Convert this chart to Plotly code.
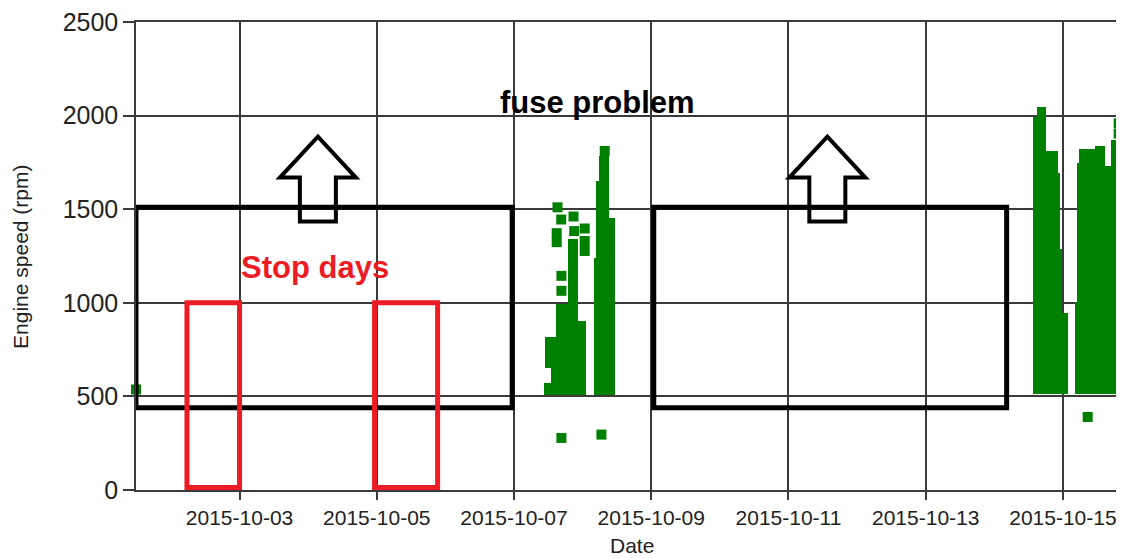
import pandas as pd
import plotly.graph_objects as go

# ---------------- data ----------------
x_tick_dates = ["2015-10-03", "2015-10-05", "2015-10-07", "2015-10-09",
                "2015-10-11", "2015-10-13", "2015-10-15"]
y_tick_values = [0, 500, 1000, 1500, 2000, 2500]
x_range = ["2015-10-01 11:47", "2015-10-15 21:22"]
y_range = [0, 2500]

# isolated engine-speed samples (time, rpm)
sample_time = ["2015-10-01 11:47", "2015-10-07 15:13", "2015-10-07 16:31",
               "2015-10-07 20:49", "2015-10-07 21:04", "2015-10-08 00:44",
               "2015-10-08 00:44", "2015-10-08 00:44", "2015-10-07 14:56",
               "2015-10-07 14:56", "2015-10-07 16:35", "2015-10-07 16:35",
               "2015-10-07 16:35", "2015-10-08 07:44", "2015-10-08 06:35",
               "2015-10-15 19:30", "2015-10-15 19:30", "2015-10-15 08:40"]
sample_rpm = [537, 1510, 1445, 1461, 1383, 1397, 1330, 1277, 1372, 1324,
              1144, 1064, 278, 1811, 296, 1959, 1904, 390]

# dense running periods: time slot and rpm envelope (min / max) in that slot
dense_start = ["2015-10-07 10:23", "2015-10-07 13:05", "2015-10-07 10:59",
               "2015-10-07 14:35", "2015-10-07 18:53", "2015-10-07 22:23",
               "2015-10-08 03:59", "2015-10-08 04:41", "2015-10-08 05:38",
               "2015-10-08 09:08",
               "2015-10-14 13:41", "2015-10-14 14:49", "2015-10-14 17:58",
               "2015-10-14 22:22", "2015-10-14 22:58", "2015-10-14 23:40",
               "2015-10-15 04:13", "2015-10-15 05:05", "2015-10-15 05:43",
               "2015-10-15 11:13", "2015-10-15 14:43", "2015-10-15 16:49"]
dense_end = ["2015-10-07 14:35", "2015-10-07 14:35", "2015-10-07 14:35",
             "2015-10-07 18:53", "2015-10-07 22:23", "2015-10-08 01:21",
             "2015-10-08 04:41", "2015-10-08 05:38", "2015-10-08 09:08",
             "2015-10-08 11:29",
             "2015-10-14 14:49", "2015-10-14 17:58", "2015-10-14 22:22",
             "2015-10-14 22:58", "2015-10-14 23:40", "2015-10-15 01:46",
             "2015-10-15 05:05", "2015-10-15 05:43", "2015-10-15 11:13",
             "2015-10-15 14:43", "2015-10-15 16:49", "2015-10-15 23:28"]
dense_low = [505, 570, 654, 505, 505, 505,
             505, 505, 505, 505,
             514, 514, 514, 514, 514, 514,
             514, 514, 514, 514, 514, 514]
dense_high = [570, 654, 815, 995, 1340, 905,
              1240, 1650, 1782, 1454,
              1995, 2048, 1809, 1691, 1287, 947,
              1002, 1746, 1821, 1839, 1729, 1871]

# annotation regions
fuse_boxes = [("2015-10-01 11:47", "2015-10-06 23:22", 440, 1510),
              ("2015-10-09 00:53", "2015-10-14 04:19", 440, 1510)]
stop_boxes = [("2015-10-02 05:37", "2015-10-03 00:00", 13, 1000),
              ("2015-10-04 23:14", "2015-10-05 21:17", 13, 1000)]
arrow_tips = [("2015-10-04 03:24", 1888), ("2015-10-11 13:36", 1888)]

# ---------------- styling ----------------
GREEN = "#008000"
RED = "#ED1C24"
GRID = "#3a3a3a"
FONT = "Liberation Sans, Arial, sans-serif"

fig = go.Figure()

s = pd.to_datetime(pd.Series(dense_start))
e = pd.to_datetime(pd.Series(dense_end))
mid = s + (e - s) / 2
width_ms = [(b - a).total_seconds() * 1000 for a, b in zip(s, e)]
heights = [h - l for h, l in zip(dense_high, dense_low)]

fig.add_trace(go.Bar(x=mid, y=heights, base=dense_low, width=width_ms,
                     marker=dict(color=GREEN, line=dict(width=0)),
                     hoverinfo="skip"))

fig.add_trace(go.Scatter(x=sample_time, y=sample_rpm, mode="markers",
                         marker=dict(symbol="square", size=10, color=GREEN,
                                     line=dict(width=0)),
                         cliponaxis=False))

shapes = []
for x0, x1, y0, y1 in fuse_boxes:
    shapes.append(dict(type="rect", xref="x", yref="y", x0=x0, x1=x1,
                       y0=y0, y1=y1, line=dict(color="black", width=5),
                       fillcolor="rgba(0,0,0,0)", layer="above"))
for x0, x1, y0, y1 in stop_boxes:
    shapes.append(dict(type="rect", xref="x", yref="y", x0=x0, x1=x1,
                       y0=y0, y1=y1, line=dict(color=RED, width=5),
                       fillcolor="rgba(0,0,0,0)", layer="above"))
arrow_path = "M0,0 L38,-41 L18,-41 L18,-85 L-18,-85 L-18,-41 L-38,-41 Z"
for tx, ty in arrow_tips:
    shapes.append(dict(type="path", xref="x", yref="y",
                       xsizemode="pixel", ysizemode="pixel",
                       xanchor=tx, yanchor=ty, path=arrow_path,
                       line=dict(color="black", width=4),
                       fillcolor="rgba(0,0,0,0)", layer="above"))

annotations = [
    dict(text="<b>fuse problem</b>", x="2015-10-08 05:17", y=2070,
         xref="x", yref="y", showarrow=False, xanchor="center",
         yanchor="middle", font=dict(family=FONT, size=31, color="black")),
    dict(text="<b>Stop days</b>", x="2015-10-04 02:25", y=1190,
         xref="x", yref="y", showarrow=False, xanchor="center",
         yanchor="middle", font=dict(family=FONT, size=31, color=RED)),
    dict(text="Date", x=0.502, y=-0.119, xref="paper", yref="paper",
         showarrow=False, xanchor="center", yanchor="middle",
         font=dict(family=FONT, size=21, color="#222")),
    dict(text="Engine speed (rpm)", x=-0.1164, y=0.498, xref="paper",
         yref="paper", showarrow=False, textangle=-90, xanchor="center",
         yanchor="middle", font=dict(family=FONT, size=21, color="#222")),
]

# the page adds an 8px body margin, so the figure is 8px smaller and
# margins are shifted to keep the plot area where the reference has it
fig.update_layout(
    width=1116, height=550,
    margin=dict(l=128, r=0, t=12, b=68),
    plot_bgcolor="white", paper_bgcolor="white",
    showlegend=False, bargap=0,
    shapes=shapes, annotations=annotations,
    font=dict(family=FONT, color="#222"),
)
fig.update_xaxes(type="date", range=x_range, tickvals=x_tick_dates,
                 ticktext=x_tick_dates, showgrid=True, gridcolor=GRID,
                 gridwidth=1.5, showline=True, mirror=True, linecolor=GRID,
                 linewidth=1.5,
                 ticks="outside", ticklen=8, tickwidth=1.5, tickcolor=GRID,
                 tickfont=dict(family=FONT, size=21, color="#222"),
                 ticklabeloverflow="allow", zeroline=False)
fig.update_yaxes(range=y_range, tickvals=y_tick_values, showgrid=True,
                 gridcolor=GRID, gridwidth=1.5, showline=True, linecolor=GRID,
                 linewidth=1.5, ticks="outside", ticklen=11, tickwidth=1.5,
                 tickcolor=GRID, tickfont=dict(family=FONT, size=25, color="#222"),
                 ticklabeloverflow="allow", zeroline=False)

fig.write_html("out.html")
